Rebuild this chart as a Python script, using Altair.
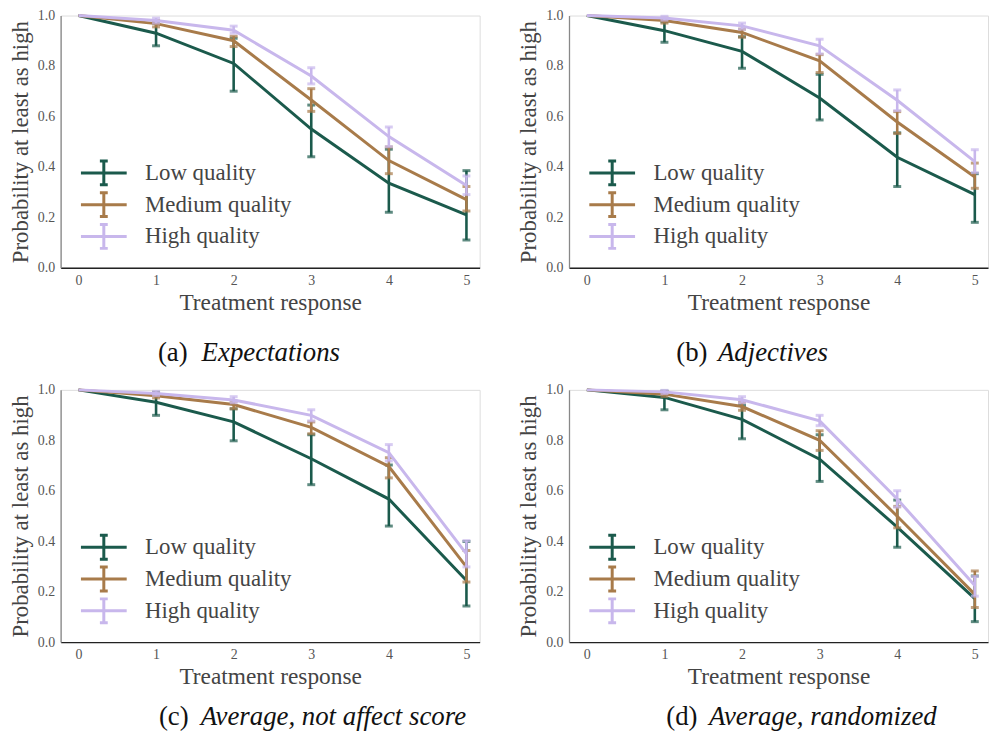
import altair as alt
import pandas as pd

x_vals = [0, 1, 2, 3, 4, 5]
series = ["Low quality", "Medium quality", "High quality"]
colors = ["#1b5a4c", "#a87b4a", "#c8b7ec"]
y_ticks = [0.0, 0.2, 0.4, 0.6, 0.8, 1.0]

# (a) Expectations
a_low = [1.0, 0.93, 0.81, 0.55, 0.335, 0.21]
a_low_lo = [1.0, 0.88, 0.70, 0.44, 0.22, 0.11]
a_low_hi = [1.0, 0.97, 0.91, 0.645, 0.47, 0.385]
a_med = [1.0, 0.968, 0.90, 0.665, 0.425, 0.27]
a_med_lo = [1.0, 0.955, 0.877, 0.62, 0.373, 0.225]
a_med_hi = [1.0, 0.98, 0.918, 0.71, 0.479, 0.322]
a_high = [1.0, 0.98, 0.942, 0.76, 0.52, 0.326]
a_high_lo = [1.0, 0.97, 0.93, 0.729, 0.48, 0.29]
a_high_hi = [1.0, 0.99, 0.958, 0.793, 0.558, 0.364]

# (b) Adjectives
b_low = [1.0, 0.94, 0.858, 0.673, 0.438, 0.29]
b_low_lo = [1.0, 0.894, 0.791, 0.586, 0.322, 0.18]
b_low_hi = [1.0, 0.975, 0.916, 0.767, 0.535, 0.373]
b_med = [1.0, 0.98, 0.933, 0.82, 0.578, 0.36]
b_med_lo = [1.0, 0.97, 0.914, 0.774, 0.532, 0.315]
b_med_hi = [1.0, 0.99, 0.946, 0.845, 0.619, 0.415]
b_high = [1.0, 0.99, 0.959, 0.88, 0.664, 0.421]
b_high_lo = [1.0, 0.982, 0.946, 0.848, 0.623, 0.377]
b_high_hi = [1.0, 0.997, 0.97, 0.906, 0.705, 0.468]

# (c) Average, not affect score
c_low = [1.0, 0.951, 0.873, 0.727, 0.567, 0.244]
c_low_lo = [1.0, 0.899, 0.798, 0.624, 0.46, 0.143]
c_low_hi = [1.0, 0.99, 0.925, 0.822, 0.702, 0.399]
c_med = [1.0, 0.977, 0.942, 0.851, 0.696, 0.298]
c_med_lo = [1.0, 0.968, 0.925, 0.826, 0.651, 0.238]
c_med_hi = [1.0, 0.987, 0.955, 0.873, 0.731, 0.363]
c_high = [1.0, 0.986, 0.96, 0.899, 0.751, 0.35]
c_high_lo = [1.0, 0.978, 0.949, 0.877, 0.718, 0.298]
c_high_hi = [1.0, 0.994, 0.973, 0.921, 0.783, 0.402]

# (d) Average, randomized
d_low = [1.0, 0.97, 0.883, 0.725, 0.456, 0.172]
d_low_lo = [1.0, 0.921, 0.806, 0.637, 0.376, 0.081]
d_low_hi = [1.0, 0.995, 0.938, 0.822, 0.563, 0.262]
d_med = [1.0, 0.983, 0.934, 0.80, 0.499, 0.189]
d_med_lo = [1.0, 0.974, 0.919, 0.76, 0.453, 0.137]
d_med_hi = [1.0, 0.992, 0.95, 0.838, 0.538, 0.282]
d_high = [1.0, 0.992, 0.961, 0.877, 0.567, 0.224]
d_high_lo = [1.0, 0.985, 0.949, 0.858, 0.535, 0.182]
d_high_hi = [1.0, 0.998, 0.973, 0.899, 0.6, 0.26]

captions = [
    ("(a)", "Expectations"),
    ("(b)", "Adjectives"),
    ("(c)", "Average, not affect score"),
    ("(d)", "Average, randomized"),
]

panel_data = [
    [(a_low, a_low_lo, a_low_hi), (a_med, a_med_lo, a_med_hi), (a_high, a_high_lo, a_high_hi)],
    [(b_low, b_low_lo, b_low_hi), (b_med, b_med_lo, b_med_hi), (b_high, b_high_lo, b_high_hi)],
    [(c_low, c_low_lo, c_low_hi), (c_med, c_med_lo, c_med_hi), (c_high, c_high_lo, c_high_hi)],
    [(d_low, d_low_lo, d_low_hi), (d_med, d_med_lo, d_med_hi), (d_high, d_high_lo, d_high_hi)],
]

FONT = "Liberation Serif"
W, H = 422, 254
SYMBOL = "M-1.92,0L1.92,0M0,-1L0,1M-0.33,-1L0.33,-1M-0.33,1L0.33,1"

# caption placement relative to plot origin: (x_label, x_text, y)
cap_pos = [(98, 142, 340), (108, 150, 340), (99, 141, 330), (98, 141, 330)]


def make_panel(idx):
    rows = []
    for s, (m, lo, hi) in zip(series, panel_data[idx]):
        for x, mm, l, h in zip(x_vals, m, lo, hi):
            rows.append(dict(x=x, y=mm, lo=l, hi=h, q=s))
    df = pd.DataFrame(rows)

    xscale = alt.Scale(domain=[-0.23, 5.17], nice=False, zero=False)
    yscale = alt.Scale(domain=[0, 1], nice=False)
    xaxis = alt.Axis(
        values=x_vals, title="Treatment response", grid=False, ticks=False,
        labelFont=FONT, labelFontSize=14, labelColor="#555", labelPadding=6,
        titleFont=FONT, titleFontSize=23.5, titleFontWeight="normal", titleColor="#444",
        titlePadding=3, domainColor="#222", domainWidth=1.3,
    )
    yaxis = alt.Axis(
        values=y_ticks, format=".1f", title="Probability at least as high", grid=False,
        ticks=False, labelFont=FONT, labelFontSize=14, labelColor="#555", labelPadding=6,
        titleFont=FONT, titleFontSize=23, titleFontWeight="normal", titleColor="#444",
        titlePadding=5, domainColor="#888", domainWidth=1.3,
    )
    cscale = alt.Scale(domain=series, range=colors)
    legend = alt.Legend(
        orient="none", legendX=30, legendY=145, title=None, symbolType=SYMBOL,
        symbolSize=576, symbolStrokeWidth=3, symbolFillColor="transparent",
        labelFont=FONT, labelFontSize=23, labelColor="#444", labelOffset=28,
        rowPadding=-6, padding=0,
    )

    X = alt.X("x:Q", scale=xscale, axis=xaxis)
    layers = []
    for s in series:
        base = alt.Chart(df).transform_filter(alt.datum.q == s)
        line = base.mark_line(strokeWidth=3).encode(
            x=X, y=alt.Y("y:Q", scale=yscale, axis=yaxis),
            color=alt.Color("q:N", scale=cscale, legend=legend),
        )
        err = base.transform_filter(alt.datum.x > 0)
        rule = err.mark_rule(strokeWidth=2.6).encode(
            x=X, y=alt.Y("lo:Q", scale=yscale, axis=yaxis), y2="hi:Q",
            color=alt.Color("q:N", scale=cscale, legend=None),
        )
        cap_lo = err.mark_tick(orient="horizontal", size=8, thickness=3).encode(
            x=X, y=alt.Y("lo:Q", scale=yscale, axis=yaxis),
            color=alt.Color("q:N", scale=cscale, legend=None),
        )
        cap_hi = err.mark_tick(orient="horizontal", size=8, thickness=3).encode(
            x=X, y=alt.Y("hi:Q", scale=yscale, axis=yaxis),
            color=alt.Color("q:N", scale=cscale, legend=None),
        )
        layers += [line, rule, cap_lo, cap_hi]

    lab, txt = captions[idx]
    px1, px2, py = cap_pos[idx]
    t1 = alt.Chart(pd.DataFrame({"t": [lab]})).mark_text(
        align="left", baseline="middle", font=FONT, fontSize=27, color="#111"
    ).encode(text="t:N", x=alt.value(px1), y=alt.value(py))
    t2 = alt.Chart(pd.DataFrame({"t": [txt]})).mark_text(
        align="left", baseline="middle", font=FONT, fontSize=27, fontStyle="italic", color="#111"
    ).encode(text="t:N", x=alt.value(px2), y=alt.value(py))
    layers += [t1, t2]
    return alt.layer(*layers).properties(width=W, height=H)


top = alt.hconcat(make_panel(0), make_panel(1), spacing=36).resolve_legend(color="independent")
bottom = alt.hconcat(make_panel(2), make_panel(3), spacing=36).resolve_legend(color="independent")
chart = (
    alt.vconcat(top, bottom, spacing=15)
    .resolve_legend(color="independent")
    .configure_view(stroke=None)
    .configure(padding={"top": -3, "left": 0, "right": 0, "bottom": 0}, background="white")
)

chart.save("out.html", embed_options={"renderer": "svg", "actions": False})
